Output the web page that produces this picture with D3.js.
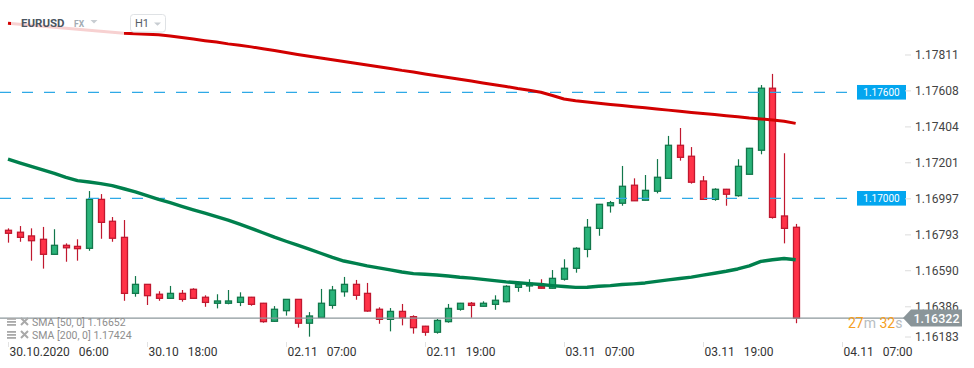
<!DOCTYPE html>
<html><head><meta charset="utf-8">
<script src="https://cdn.jsdelivr.net/npm/d3@7"></script>
<style>html,body{margin:0;padding:0;background:#fff;overflow:hidden}svg{display:block;font-family:Roboto,"Noto Sans",sans-serif}</style>
</head><body><svg id="c" width="974" height="368"></svg>
<script>
const symbol = "EURUSD", market = "FX", interval = "H1";
const open = [1.16819,1.16808,1.16787,1.16768,1.16683,1.16734,1.16728,1.16717,1.16994,1.16870,
1.16779,1.16462,1.16513,1.16457,1.16434,1.16462,1.16485,1.16440,1.16406,1.16406,
1.16411,1.16440,1.16406,1.16304,1.16364,1.16428,1.16293,1.16326,1.16394,1.16471,
1.16513,1.16462,1.16372,1.16315,1.16360,1.16330,1.16276,1.16242,1.16302,1.16372,
1.16406,1.16389,1.16400,1.16415,1.16496,1.16504,1.16500,1.16491,1.16542,1.16604,
1.16711,1.16830,1.16958,1.16972,1.17074,1.16989,1.17040,1.17113,1.17300,1.17238,
1.17098,1.16994,1.17051,1.17015,1.17136,1.17272,1.17623,1.16900,1.16836];
const high = [1.16830,1.16843,1.16830,1.16838,1.16825,1.16745,1.16768,1.17041,1.17024,1.16894,
1.16877,1.16560,1.16515,1.16474,1.16504,1.16481,1.16491,1.16451,1.16457,1.16481,
1.16468,1.16442,1.16408,1.16390,1.16430,1.16430,1.16356,1.16487,1.16504,1.16555,
1.16538,1.16521,1.16383,1.16379,1.16402,1.16338,1.16278,1.16317,1.16402,1.16408,
1.16413,1.16417,1.16451,1.16508,1.16521,1.16542,1.16542,1.16594,1.16655,1.16723,
1.16883,1.16968,1.16985,1.17183,1.17113,1.17132,1.17222,1.17353,1.17398,1.17290,
1.17126,1.17057,1.17053,1.17221,1.17285,1.17641,1.17704,1.17255,1.16855];
const low = [1.16749,1.16754,1.16647,1.16602,1.16682,1.16641,1.16647,1.16703,1.16771,1.16754,
1.16420,1.16443,1.16396,1.16420,1.16433,1.16415,1.16432,1.16386,1.16377,1.16400,
1.16390,1.16392,1.16296,1.16300,1.16336,1.16268,1.16217,1.16325,1.16375,1.16443,
1.16426,1.16358,1.16290,1.16247,1.16281,1.16234,1.16222,1.16234,1.16296,1.16364,
1.16324,1.16388,1.16369,1.16411,1.16471,1.16471,1.16490,1.16490,1.16534,1.16579,
1.16666,1.16788,1.16919,1.16958,1.16985,1.16988,1.17028,1.17112,1.17213,1.17083,
1.16993,1.16986,1.16958,1.17009,1.17135,1.17249,1.16885,1.16745,1.16293];
const close = [1.16802,1.16779,1.16760,1.16683,1.16734,1.16720,1.16715,1.16994,1.16864,1.16774,
1.16462,1.16513,1.16449,1.16434,1.16462,1.16428,1.16434,1.16411,1.16419,1.16419,
1.16440,1.16400,1.16302,1.16372,1.16428,1.16293,1.16334,1.16406,1.16481,1.16513,
1.16451,1.16362,1.16315,1.16360,1.16324,1.16268,1.16242,1.16309,1.16377,1.16406,
1.16394,1.16406,1.16423,1.16502,1.16511,1.16519,1.16491,1.16547,1.16604,1.16717,
1.16836,1.16966,1.16975,1.17068,1.16986,1.17045,1.17119,1.17300,1.17232,1.17091,
1.16994,1.17051,1.17023,1.17181,1.17283,1.17623,1.16892,1.16830,1.16322];
const sma50 = [1.17222,1.17201,1.17181,1.17161,1.17141,1.17119,1.17100,1.17092,1.17083,1.17072,
1.17054,1.17036,1.17015,1.16994,1.16975,1.16955,1.16935,1.16916,1.16896,1.16877,
1.16854,1.16830,1.16805,1.16780,1.16757,1.16735,1.16712,1.16689,1.16666,1.16645,
1.16632,1.16618,1.16606,1.16595,1.16583,1.16574,1.16570,1.16566,1.16560,1.16553,
1.16548,1.16541,1.16534,1.16527,1.16522,1.16517,1.16512,1.16506,1.16501,1.16496,
1.16497,1.16502,1.16506,1.16512,1.16516,1.16521,1.16530,1.16538,1.16546,1.16554,
1.16565,1.16576,1.16587,1.16600,1.16618,1.16643,1.16652,1.16659,1.16652];
const sma200 = [1.17991,1.17985,1.17979,1.17974,1.17968,1.17962,1.17957,1.17951,1.17945,1.17940,
1.17934,1.17931,1.17928,1.17925,1.17919,1.17910,1.17901,1.17892,1.17884,1.17874,
1.17866,1.17857,1.17846,1.17836,1.17825,1.17814,1.17804,1.17794,1.17784,1.17774,
1.17764,1.17754,1.17744,1.17735,1.17724,1.17715,1.17704,1.17694,1.17684,1.17674,
1.17664,1.17653,1.17643,1.17633,1.17621,1.17611,1.17600,1.17582,1.17562,1.17552,
1.17545,1.17538,1.17531,1.17525,1.17518,1.17512,1.17505,1.17499,1.17492,1.17486,
1.17480,1.17474,1.17467,1.17461,1.17454,1.17449,1.17443,1.17436,1.17424];
const yTicks = [1.16183,1.16386,1.16590,1.16793,1.16997,1.17201,1.17404,1.17608,1.17811];
const xTickIdx = [0,12,24,36,48,60,72];
const xTickDates = ["30.10.2020","30.10","02.11","02.11","03.11","03.11","04.11"];
const xTickTimes = ["06:00","18:00","07:00","19:00","07:00","19:00","07:00"];
const levels = [1.17600, 1.17000];
const lastPrice = 1.16322;
const legendLabels = ["SMA [50, 0] 1.16652", "SMA [200, 0] 1.17424"];
const countdown = [["27","o"],["m","g"],[" 32","o"],["s","g"]];

const svg = d3.select("#c");
const x = d3.scaleLinear().domain([0, 72]).range([8, 842]);
const y = d3.scaleLinear().domain([1.16, 1.18]).range([375, 21.6]);
const fmt = d3.format(".5f");

const GREEN_F = "#2ab37a", GREEN_S = "#12774b", RED_F = "#ff3348", RED_S = "#c0182f";

// candles
const idx = d3.range(open.length);
const g = svg.append("g");
idx.forEach(i => {
  const up = close[i] >= open[i];
  const cx = Math.round(x(i)) + 0.5;
  g.append("line").attr("x1", cx).attr("x2", cx)
    .attr("y1", y(high[i])).attr("y2", y(low[i]))
    .attr("stroke", up ? GREEN_S : RED_S).attr("stroke-width", 1.2);
  const top = y(Math.max(open[i], close[i])), bot = y(Math.min(open[i], close[i]));
  g.append("rect").attr("x", cx - 3).attr("width", 6)
    .attr("y", top).attr("height", Math.max(1.2, bot - top))
    .attr("fill", up ? GREEN_F : RED_F)
    .attr("stroke", up ? GREEN_S : RED_S).attr("stroke-width", 1.3);
});

// dashed levels
levels.forEach(v => {
  svg.append("line").attr("x1", 0).attr("x2", 857).attr("y1", y(v)).attr("y2", y(v))
    .attr("stroke", "#2ea9e6").attr("stroke-width", 1.2).attr("stroke-dasharray", "11,11");
  svg.append("rect").attr("x", 857).attr("y", y(v) - 7.3).attr("width", 49).attr("height", 14.6)
    .attr("fill", "#03a6ef");
  svg.append("text").attr("x", 881.5).attr("y", y(v) + 3.6).attr("text-anchor", "middle")
    .attr("fill", "#fff").attr("font-size", 10).text(fmt(v));
});

// current price line
svg.append("line").attr("x1", 0).attr("x2", 905).attr("y1", y(lastPrice)).attr("y2", y(lastPrice))
  .attr("stroke", "#8c979b").attr("stroke-width", 1.4);

// SMA lines
const line = d3.line().x((d, i) => x(i)).y(d => y(d));
svg.append("path").datum(sma50).attr("d", line).attr("fill", "none")
  .attr("stroke", "#00804d").attr("stroke-width", 3.4).attr("stroke-linejoin", "round");
svg.append("path").datum(sma200).attr("d", line).attr("fill", "none")
  .attr("stroke", "#d20000").attr("stroke-width", 3).attr("stroke-linejoin", "round");

// header overlay
svg.append("rect").attr("x", 11).attr("y", 0).attr("width", 113).attr("height", 46)
  .attr("fill", "#fff").attr("opacity", 0.82);
svg.append("text").attr("x", 21).attr("y", 27.3).attr("font-size", 11.5).attr("font-weight", 700)
  .attr("fill", "#4a5561").text(symbol);
svg.append("text").attr("x", 74).attr("y", 27.2).attr("font-size", 8.5).attr("font-weight", 700)
  .attr("fill", "#a3abb3").text(market);
svg.append("path").attr("d", "M90.5,20 L97.5,20 L94,23.5 Z").attr("fill", "#c8cdd2");
svg.append("rect").attr("x", 130.5).attr("y", 14.5).attr("width", 35).attr("height", 17.5).attr("rx", 3)
  .attr("fill", "#fff").attr("stroke", "#dfe2e5");
svg.append("text").attr("x", 135).attr("y", 27.3).attr("font-size", 11).attr("fill", "#555d66").text(interval);
svg.append("path").attr("d", "M154,22.5 L161,22.5 L157.5,25.8 Z").attr("fill", "#c8cdd2");

// right axis
yTicks.forEach(v => {
  const yy = Math.min(y(v), 337);
  svg.append("line").attr("x1", 905).attr("x2", 911).attr("y1", yy).attr("y2", yy)
    .attr("stroke", "#dcdcdc").attr("stroke-width", 1);
  svg.append("text").attr("x", 915).attr("y", yy + 4.3).attr("font-size", 12)
    .attr("fill", "#444").text(fmt(v));
});

// current price label
const yp = y(lastPrice);
svg.append("path").attr("d", `M903,${yp} L911,${yp-8.5} L962,${yp-8.5} L962,${yp+8.5} L911,${yp+8.5} Z`)
  .attr("fill", "#8a9599");
svg.append("text").attr("x", 936.5).attr("y", yp + 4.4).attr("text-anchor", "middle")
  .attr("font-size", 12.5).attr("font-weight", 500).attr("fill", "#fff").text(fmt(lastPrice));

// countdown
const cd = svg.append("text").attr("x", 848).attr("y", yp + 9.5).attr("font-size", 14).style("white-space", "pre");
countdown.forEach(([t, c]) => cd.append("tspan").attr("fill", c === "o" ? "#f5a01e" : "#b8bdc1").text(t));

// legend
legendLabels.forEach((t, k) => {
  const yy = 322 + k * 13;
  const ic = svg.append("g").attr("fill", "#a9a9a9");
  ic.append("rect").attr("x", 7).attr("y", yy - 4).attr("width", 9).attr("height", 1.8);
  ic.append("rect").attr("x", 7).attr("y", yy - 1).attr("width", 9).attr("height", 1.8);
  ic.append("rect").attr("x", 7).attr("y", yy + 2).attr("width", 9).attr("height", 1.8);
  svg.append("path").attr("d", `M21,${yy-4} L28,${yy+3} M28,${yy-4} L21,${yy+3}`)
    .attr("stroke", "#a9a9a9").attr("stroke-width", 2);
  svg.append("text").attr("x", 32).attr("y", yy + 3.8).attr("font-size", 10.5)
    .attr("fill", "#8e8e8e").style("white-space", "pre").text(t);
});

// x axis
xTickIdx.forEach((ix, k) => {
  const xx = Math.round(x(ix)) + 0.5;
  svg.append("line").attr("x1", xx).attr("x2", xx).attr("y1", 342).attr("y2", 347)
    .attr("stroke", "#e2e2e2");
  const t = svg.append("text").attr("x", xx + 1).attr("y", 355.5).attr("font-size", 12).attr("fill", "#333");
  t.append("tspan").text(xTickDates[k]);
  t.append("tspan").attr("dx", 9).text(xTickTimes[k]);
});
</script></body></html>
